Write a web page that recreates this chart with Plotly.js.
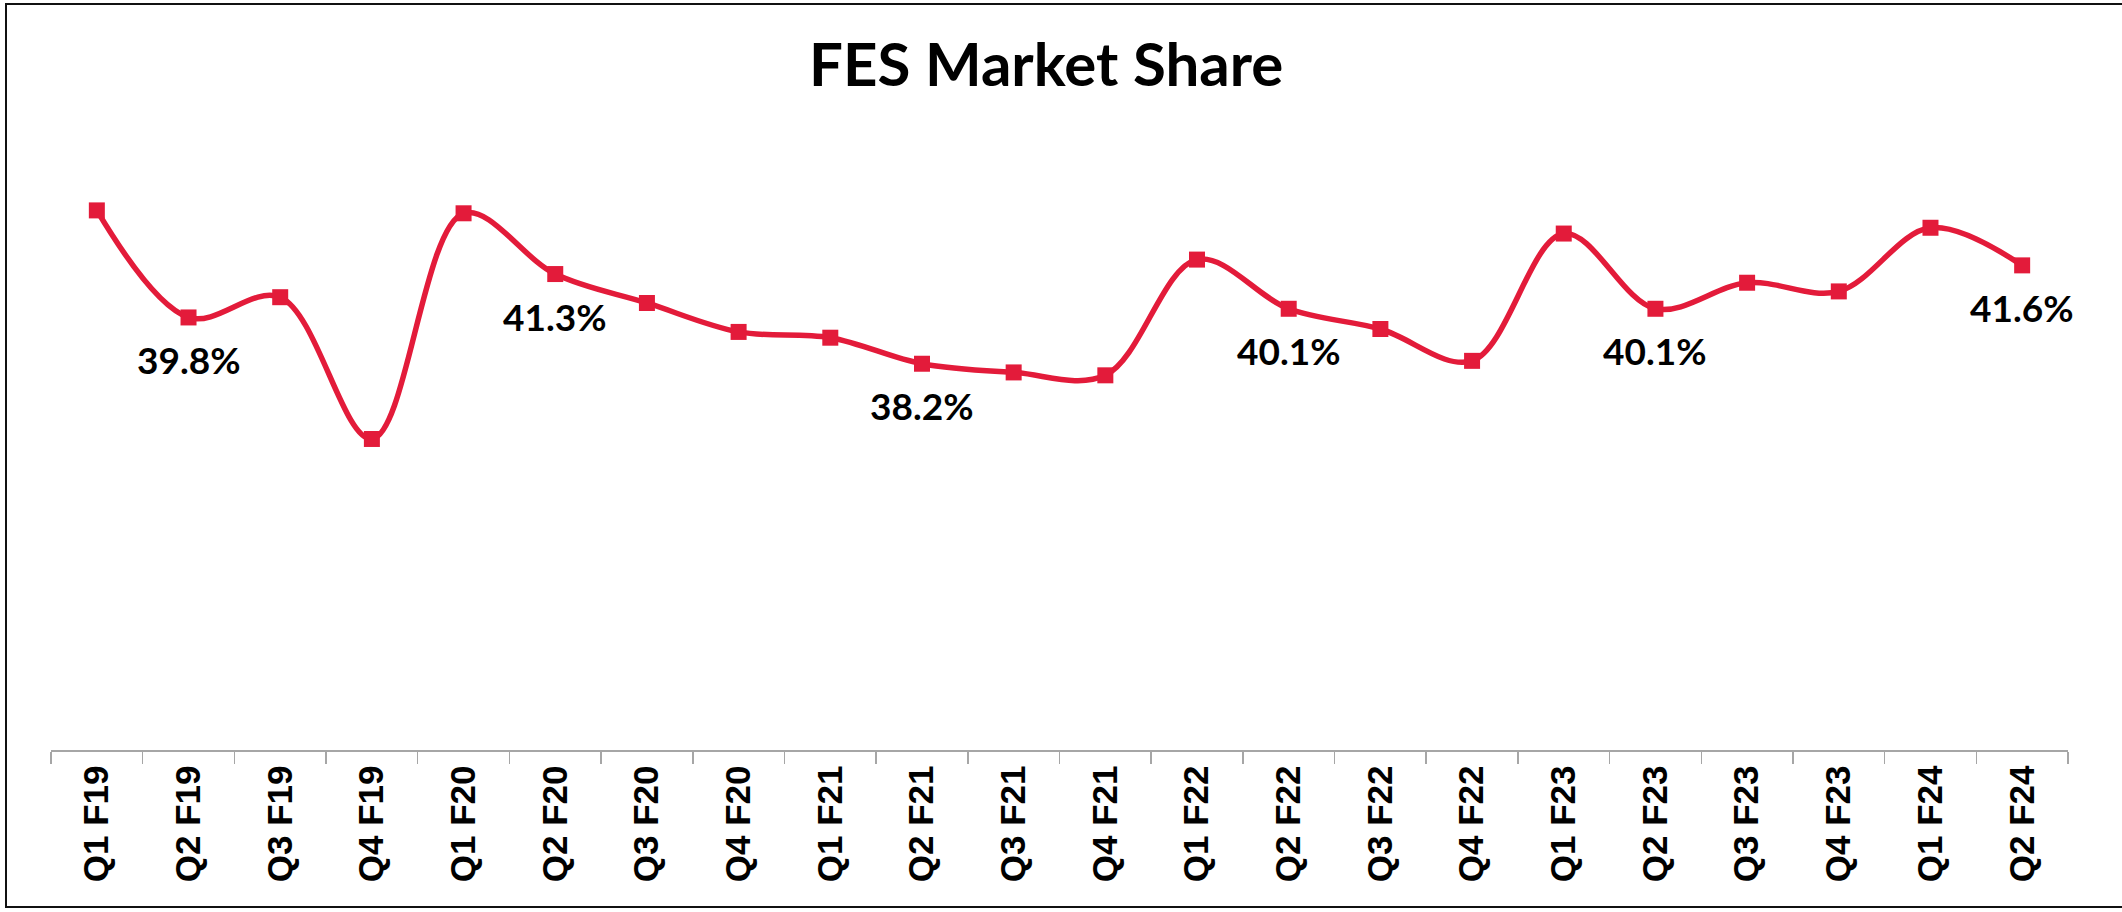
<!DOCTYPE html>
<html>
<head>
<meta charset="utf-8">
<script src="https://cdn.plot.ly/plotly-3.0.1.min.js"></script>
<style>
  html, body { margin: 0; padding: 0; overflow: hidden; background: #fff; }
  #chart { width: 2122px; height: 912px; }
  #frame { position: absolute; left: 5px; top: 3px; width: 2200px; height: 905px;
           border: 2px solid #111; pointer-events: none; box-sizing: border-box; }
</style>
</head>
<body>
<div id="chart"></div>
<div id="frame"></div>
<script>
const categories = ["Q1 F19","Q2 F19","Q3 F19","Q4 F19","Q1 F20","Q2 F20","Q3 F20","Q4 F20",
                    "Q1 F21","Q2 F21","Q3 F21","Q4 F21","Q1 F22","Q2 F22","Q3 F22","Q4 F22",
                    "Q1 F23","Q2 F23","Q3 F23","Q4 F23","Q1 F24","Q2 F24"];
const marketShare = [43.5, 39.8, 40.5, 35.6, 43.4, 41.3, 40.3, 39.3,
                     39.1, 38.2, 37.9, 37.8, 41.8, 40.1, 39.4, 38.3,
                     42.7, 40.1, 41.0, 40.7, 42.9, 41.6];
const labelled = ["Q2 F19","Q2 F20","Q2 F21","Q2 F22","Q2 F23","Q2 F24"];

const trace = {
  type: "scatter",
  mode: "lines+markers",
  x: categories,
  y: marketShare,
  line: { color: "#E31B3A", width: 5.5, shape: "spline", smoothing: 1 },
  marker: { symbol: "square", size: 16, color: "#E31B3A" },
  hoverinfo: "x+y",
  cliponaxis: false
};

const annotations = categories
  .map((c, i) => ({ c, v: marketShare[i] }))
  .filter(d => labelled.includes(d.c))
  .map(d => ({
    x: d.c, y: d.v, xref: "x", yref: "y",
    text: d.v.toFixed(1) + "%",
    showarrow: false,
    yshift: -42,
    xanchor: "center", yanchor: "middle",
    font: { family: "Lato, 'Open Sans', sans-serif", size: 37, color: "#000", weight: 700 }
  }));

const layout = {
  width: 2122,
  height: 912,
  margin: { l: 51, r: 54, t: 167, b: 162 },
  paper_bgcolor: "#fff",
  plot_bgcolor: "#fff",
  showlegend: false,
  annotations: annotations,
  title: {
    text: "<b>FES Market Share</b>",
    font: { family: "Lato, 'Open Sans', sans-serif", size: 60, color: "#000" },
    x: 0.493, xref: "container", xanchor: "center",
    y: 0.929, yref: "container", yanchor: "middle"
  },
  xaxis: {
    type: "category",
    range: [-0.5, categories.length - 0.5],
    tickangle: -90,
    tickson: "boundaries",
    ticks: "outside",
    ticklen: 12,
    tickwidth: 1.5,
    tickcolor: "#A6A6A6",
    showline: true,
    linecolor: "#A6A6A6",
    linewidth: 1.5,
    showgrid: false,
    zeroline: false,
    tickfont: { family: "'Liberation Sans', Arial, sans-serif", size: 35, color: "#000", weight: 700 }
  },
  yaxis: {
    range: [24.85, 45],
    showticklabels: false,
    showgrid: false,
    zeroline: false,
    showline: false,
    ticks: ""
  }
};

Plotly.newPlot("chart", [trace], layout, { displayModeBar: false, staticPlot: true });
</script>
</body>
</html>
